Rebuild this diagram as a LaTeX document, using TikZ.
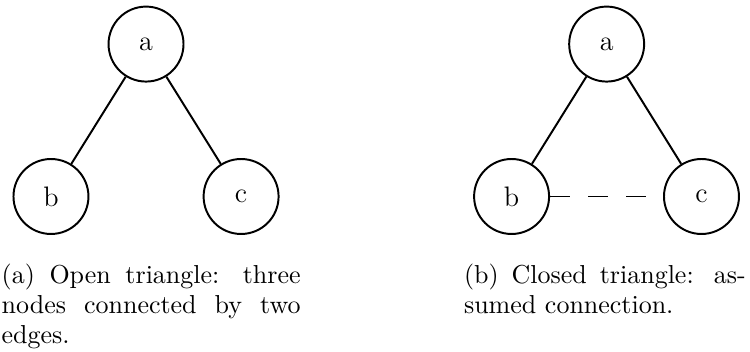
\documentclass[tikz,border=0pt]{standalone}

\begin{document}
\begin{tikzpicture}[x=1pt, y=1pt,
  vertex/.style={circle, draw, thick, minimum size=30.6pt, inner sep=0pt,
    font=\fontsize{11.5}{13}\selectfont},
  edge/.style={thick},
  guess/.style={thick, dash pattern=on 8pt off 7.5pt},
  caption/.style={anchor=north west, inner sep=0pt, align=justify,
    font=\fontsize{10.6}{12.2}\selectfont}]
  \useasboundingbox (0,0) rectangle (306.1,-143.3);
  % (a) open triangle
  \node[vertex] (aL) at (59.6,-18.0) {a};
  \node[vertex] (bL) at (20.8,-80.2) {b};
  \node[vertex] (cL) at (98.4,-80.2) {c};
  \draw[edge] (aL) -- (bL);
  \draw[edge] (aL) -- (cL);
  \node[caption, text width=122pt] (capL) at (0.5,-107.5)
    {(a) Open triangle: three\linebreak nodes connected by two\linebreak edges.};
  % (b) closed triangle
  \node[vertex] (aR) at (247.6,-18.0) {a};
  \node[vertex] (bR) at (208.8,-80.2) {b};
  \node[vertex] (cR) at (286.3,-80.2) {c};
  \draw[edge] (aR) -- (bR);
  \draw[edge] (aR) -- (cR);
  \draw[guess] (bR) -- (cR);
  \node[caption, text width=115pt] (capR) at (189.2,-107.5)
    {(b) Closed triangle: as-\linebreak sumed connection.};
\end{tikzpicture}
\end{document}
